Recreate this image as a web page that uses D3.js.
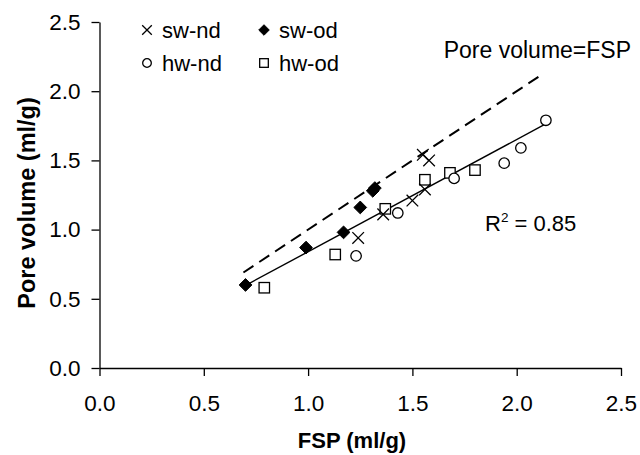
<!DOCTYPE html>
<html>
<head>
<meta charset="utf-8">
<script src="https://cdn.jsdelivr.net/npm/d3@7"></script>
<style>
  body { margin: 0; background: #fff; }
  svg { display: block; }
  text { font-family: "Liberation Sans", Arial, sans-serif; fill: #000; }
  .axis path, .axis line { stroke: #000; stroke-width: 1.3; }
  .axis text { font-size: 22.5px; }
</style>
</head>
<body>
<div id="chart"></div>
<script>
// data, [FSP, pore volume]
const swNd = [[1.24, 0.94], [1.36, 1.11], [1.50, 1.21], [1.56, 1.29], [1.55, 1.54], [1.58, 1.50]]
const swOd = [[0.70, 0.60], [0.99, 0.87], [1.17, 0.98], [1.25, 1.16], [1.31, 1.28], [1.32, 1.30]]
const hwNd = [[1.23, 0.81], [1.43, 1.12], [1.70, 1.37], [1.94, 1.48], [2.02, 1.59], [2.14, 1.79]]
const hwOd = [[0.79, 0.58], [1.13, 0.82], [1.37, 1.15], [1.56, 1.36], [1.68, 1.41], [1.80, 1.43]]

// fitted line (solid) and 1:1 line (dashed), ends as drawn
const fitLine = [[0.71, 0.605], [2.13, 1.756]]
const oneToOne = [[0.69, 0.69], [2.13, 2.13]]

const ticks = [0, 0.5, 1.0, 1.5, 2.0, 2.5]
const legendItems = [
  { name: "sw-nd", shape: "cross" },
  { name: "sw-od", shape: "diamond" },
  { name: "hw-nd", shape: "circle" },
  { name: "hw-od", shape: "square" }
]

const width = 640, height = 455
const margin = { top: 22, right: 19, bottom: 87, left: 99.5 }

const svg = d3.select("#chart").append("svg")
  .attr("width", width)
  .attr("height", height)

const x = d3.scaleLinear().domain([0, 2.5]).range([margin.left, width - margin.right])
const y = d3.scaleLinear().domain([0, 2.5]).range([height - margin.bottom, margin.top])

const fmt = d3.format(".1f")

svg.append("g")
  .attr("class", "axis")
  .attr("transform", `translate(0,${y(0)})`)
  .call(d3.axisBottom(x).tickValues(ticks).tickFormat(fmt).tickSizeInner(8).tickSizeOuter(0).tickPadding(19))

svg.append("g")
  .attr("class", "axis")
  .attr("transform", `translate(${x(0)},0)`)
  .call(d3.axisLeft(y).tickValues(ticks).tickFormat(fmt).tickSizeInner(8).tickSizeOuter(0).tickPadding(11))

// axis titles
svg.append("text")
  .attr("x", 352)
  .attr("y", 448)
  .attr("text-anchor", "middle")
  .attr("font-size", 22)
  .attr("font-weight", "bold")
  .text("FSP (ml/g)")

svg.append("text")
  .attr("transform", "translate(35,203) rotate(-90)")
  .attr("text-anchor", "middle")
  .attr("font-size", 23.5)
  .attr("font-weight", "bold")
  .text("Pore volume (ml/g)")

// lines
const line = d3.line().x(d => x(d[0])).y(d => y(d[1]))

svg.append("path")
  .datum(oneToOne)
  .attr("d", line)
  .attr("fill", "none")
  .attr("stroke", "#000")
  .attr("stroke-width", 2)
  .attr("stroke-dasharray", "12,7")

svg.append("path")
  .datum(fitLine)
  .attr("d", line)
  .attr("fill", "none")
  .attr("stroke", "#000")
  .attr("stroke-width", 1.4)

// markers
function marker(g, shape, s) {
  if (shape === "cross") {
    g.append("path")
      .attr("d", `M${-s},${-s}L${s},${s}M${-s},${s}L${s},${-s}`)
      .attr("stroke", "#000").attr("stroke-width", 1.3).attr("fill", "none")
  } else if (shape === "diamond") {
    g.append("path")
      .attr("d", `M0,${-s * 1.1}L${s * 1.1},0L0,${s * 1.1}L${-s * 1.1},0Z`)
      .attr("fill", "#000").attr("stroke", "#000").attr("stroke-width", 1)
  } else if (shape === "circle") {
    g.append("circle")
      .attr("r", s * 0.9)
      .attr("fill", "#fff").attr("stroke", "#000").attr("stroke-width", 1.3)
  } else {
    g.append("rect")
      .attr("x", -s * 0.9).attr("y", -s * 0.9)
      .attr("width", s * 1.8).attr("height", s * 1.8)
      .attr("fill", "#fff").attr("stroke", "#000").attr("stroke-width", 1.3)
  }
}

const series = [
  { data: hwOd, shape: "square" },
  { data: hwNd, shape: "circle" },
  { data: swOd, shape: "diamond" },
  { data: swNd, shape: "cross" }
]

series.forEach(sr => {
  svg.append("g").selectAll("g")
    .data(sr.data)
    .enter()
    .append("g")
    .attr("transform", d => `translate(${x(d[0])},${y(d[1])})`)
    .each(function () { marker(d3.select(this), sr.shape, 5.8) })
})

// legend
const legend = svg.append("g")
legendItems.forEach((d, i) => {
  const lx = 147 + (i % 2) * 117
  const ly = 30 + Math.floor(i / 2) * 33
  const g = legend.append("g").attr("transform", `translate(${lx},${ly})`)
  marker(g, d.shape, 4.8)
  legend.append("text")
    .attr("x", lx + 15)
    .attr("y", ly + 7.5)
    .attr("font-size", 22)
    .text(d.name)
})

// annotations
svg.append("text")
  .attr("x", 631)
  .attr("y", 58)
  .attr("text-anchor", "end")
  .attr("font-size", 23)
  .text("Pore volume=FSP")

const r2 = svg.append("text")
  .attr("x", 485)
  .attr("y", 231)
  .attr("font-size", 22)
r2.append("tspan").text("R")
r2.append("tspan").attr("font-size", 13.5).attr("dy", -9.5).text("2")
r2.append("tspan").attr("dy", 9.5).text(" = 0.85")
</script>
</body>
</html>
